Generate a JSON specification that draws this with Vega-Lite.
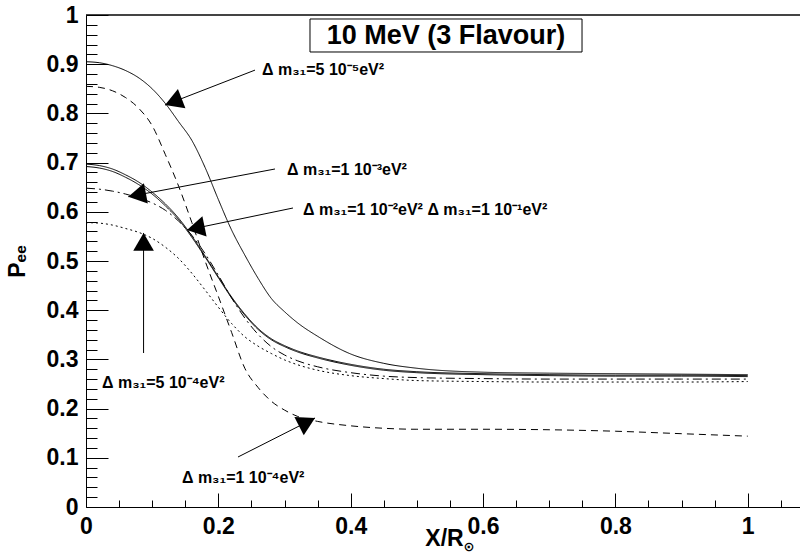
{
  "$schema": "https://vega.github.io/schema/vega-lite/v6.json",
  "autosize": "none",
  "width": 714,
  "height": 492,
  "padding": {"left": 86, "top": 15, "right": 0, "bottom": 53},
  "background": "white",
  "config": {
    "view": {"stroke": null},
    "font": "Liberation Sans"
  },
  "datasets": {
    "curves": [
      {"s":"5e-5","x":0,"y":0.905},{"s":"5e-5","x":0.02,"y":0.903},{"s":"5e-5","x":0.04,"y":0.897},{"s":"5e-5","x":0.06,"y":0.887},{"s":"5e-5","x":0.08,"y":0.872},{"s":"5e-5","x":0.10,"y":0.850},{"s":"5e-5","x":0.12,"y":0.820},{"s":"5e-5","x":0.14,"y":0.783},{"s":"5e-5","x":0.16,"y":0.745},{"s":"5e-5","x":0.18,"y":0.690},{"s":"5e-5","x":0.20,"y":0.625},{"s":"5e-5","x":0.22,"y":0.563},{"s":"5e-5","x":0.24,"y":0.512},{"s":"5e-5","x":0.26,"y":0.465},{"s":"5e-5","x":0.28,"y":0.424},{"s":"5e-5","x":0.30,"y":0.397},{"s":"5e-5","x":0.32,"y":0.374},{"s":"5e-5","x":0.35,"y":0.347},{"s":"5e-5","x":0.40,"y":0.311},{"s":"5e-5","x":0.45,"y":0.292},{"s":"5e-5","x":0.50,"y":0.282},{"s":"5e-5","x":0.60,"y":0.274},{"s":"5e-5","x":0.70,"y":0.272},{"s":"5e-5","x":0.80,"y":0.271},{"s":"5e-5","x":0.90,"y":0.270},{"s":"5e-5","x":1.00,"y":0.269},
      {"s":"1e-4","x":0,"y":0.855},{"s":"1e-4","x":0.02,"y":0.853},{"s":"1e-4","x":0.04,"y":0.846},{"s":"1e-4","x":0.06,"y":0.832},{"s":"1e-4","x":0.08,"y":0.810},{"s":"1e-4","x":0.10,"y":0.775},{"s":"1e-4","x":0.12,"y":0.716},{"s":"1e-4","x":0.14,"y":0.652},{"s":"1e-4","x":0.16,"y":0.578},{"s":"1e-4","x":0.18,"y":0.500},{"s":"1e-4","x":0.20,"y":0.428},{"s":"1e-4","x":0.22,"y":0.355},{"s":"1e-4","x":0.24,"y":0.282},{"s":"1e-4","x":0.26,"y":0.243},{"s":"1e-4","x":0.28,"y":0.215},{"s":"1e-4","x":0.30,"y":0.197},{"s":"1e-4","x":0.32,"y":0.184},{"s":"1e-4","x":0.35,"y":0.174},{"s":"1e-4","x":0.40,"y":0.165},{"s":"1e-4","x":0.45,"y":0.160},{"s":"1e-4","x":0.50,"y":0.158},{"s":"1e-4","x":0.60,"y":0.158},{"s":"1e-4","x":0.70,"y":0.157},{"s":"1e-4","x":0.80,"y":0.154},{"s":"1e-4","x":0.90,"y":0.149},{"s":"1e-4","x":1.00,"y":0.144},
      {"s":"1e-2","x":0,"y":0.692},{"s":"1e-2","x":0.02,"y":0.689},{"s":"1e-2","x":0.04,"y":0.682},{"s":"1e-2","x":0.06,"y":0.670},{"s":"1e-2","x":0.08,"y":0.655},{"s":"1e-2","x":0.10,"y":0.636},{"s":"1e-2","x":0.12,"y":0.612},{"s":"1e-2","x":0.14,"y":0.584},{"s":"1e-2","x":0.16,"y":0.548},{"s":"1e-2","x":0.18,"y":0.508},{"s":"1e-2","x":0.20,"y":0.466},{"s":"1e-2","x":0.22,"y":0.425},{"s":"1e-2","x":0.24,"y":0.390},{"s":"1e-2","x":0.26,"y":0.361},{"s":"1e-2","x":0.28,"y":0.340},{"s":"1e-2","x":0.30,"y":0.326},{"s":"1e-2","x":0.32,"y":0.315},{"s":"1e-2","x":0.35,"y":0.303},{"s":"1e-2","x":0.40,"y":0.288},{"s":"1e-2","x":0.45,"y":0.278},{"s":"1e-2","x":0.50,"y":0.273},{"s":"1e-2","x":0.60,"y":0.269},{"s":"1e-2","x":0.70,"y":0.267},{"s":"1e-2","x":0.80,"y":0.266},{"s":"1e-2","x":0.90,"y":0.266},{"s":"1e-2","x":1.00,"y":0.265},
      {"s":"1e-1","x":0,"y":0.697},{"s":"1e-1","x":0.02,"y":0.694},{"s":"1e-1","x":0.04,"y":0.687},{"s":"1e-1","x":0.06,"y":0.675},{"s":"1e-1","x":0.08,"y":0.660},{"s":"1e-1","x":0.10,"y":0.640},{"s":"1e-1","x":0.12,"y":0.616},{"s":"1e-1","x":0.14,"y":0.587},{"s":"1e-1","x":0.16,"y":0.551},{"s":"1e-1","x":0.18,"y":0.510},{"s":"1e-1","x":0.20,"y":0.468},{"s":"1e-1","x":0.22,"y":0.427},{"s":"1e-1","x":0.24,"y":0.392},{"s":"1e-1","x":0.26,"y":0.363},{"s":"1e-1","x":0.28,"y":0.342},{"s":"1e-1","x":0.30,"y":0.328},{"s":"1e-1","x":0.32,"y":0.317},{"s":"1e-1","x":0.35,"y":0.305},{"s":"1e-1","x":0.40,"y":0.290},{"s":"1e-1","x":0.45,"y":0.280},{"s":"1e-1","x":0.50,"y":0.275},{"s":"1e-1","x":0.60,"y":0.271},{"s":"1e-1","x":0.70,"y":0.269},{"s":"1e-1","x":0.80,"y":0.268},{"s":"1e-1","x":0.90,"y":0.268},{"s":"1e-1","x":1.00,"y":0.267},
      {"s":"1e-3","x":0,"y":0.648},{"s":"1e-3","x":0.02,"y":0.646},{"s":"1e-3","x":0.04,"y":0.642},{"s":"1e-3","x":0.06,"y":0.636},{"s":"1e-3","x":0.08,"y":0.628},{"s":"1e-3","x":0.10,"y":0.618},{"s":"1e-3","x":0.12,"y":0.603},{"s":"1e-3","x":0.14,"y":0.581},{"s":"1e-3","x":0.16,"y":0.552},{"s":"1e-3","x":0.18,"y":0.515},{"s":"1e-3","x":0.20,"y":0.471},{"s":"1e-3","x":0.22,"y":0.425},{"s":"1e-3","x":0.24,"y":0.384},{"s":"1e-3","x":0.26,"y":0.351},{"s":"1e-3","x":0.28,"y":0.326},{"s":"1e-3","x":0.30,"y":0.309},{"s":"1e-3","x":0.32,"y":0.297},{"s":"1e-3","x":0.35,"y":0.285},{"s":"1e-3","x":0.40,"y":0.273},{"s":"1e-3","x":0.45,"y":0.266},{"s":"1e-3","x":0.50,"y":0.263},{"s":"1e-3","x":0.60,"y":0.261},{"s":"1e-3","x":0.70,"y":0.260},{"s":"1e-3","x":0.80,"y":0.260},{"s":"1e-3","x":0.90,"y":0.260},{"s":"1e-3","x":1.00,"y":0.260},
      {"s":"5e-4","x":0,"y":0.578},{"s":"5e-4","x":0.02,"y":0.577},{"s":"5e-4","x":0.04,"y":0.573},{"s":"5e-4","x":0.06,"y":0.566},{"s":"5e-4","x":0.08,"y":0.558},{"s":"5e-4","x":0.10,"y":0.546},{"s":"5e-4","x":0.12,"y":0.528},{"s":"5e-4","x":0.14,"y":0.505},{"s":"5e-4","x":0.16,"y":0.475},{"s":"5e-4","x":0.18,"y":0.441},{"s":"5e-4","x":0.20,"y":0.406},{"s":"5e-4","x":0.22,"y":0.373},{"s":"5e-4","x":0.24,"y":0.346},{"s":"5e-4","x":0.26,"y":0.327},{"s":"5e-4","x":0.28,"y":0.312},{"s":"5e-4","x":0.30,"y":0.299},{"s":"5e-4","x":0.32,"y":0.289},{"s":"5e-4","x":0.35,"y":0.278},{"s":"5e-4","x":0.40,"y":0.267},{"s":"5e-4","x":0.45,"y":0.261},{"s":"5e-4","x":0.50,"y":0.257},{"s":"5e-4","x":0.60,"y":0.255},{"s":"5e-4","x":0.70,"y":0.254},{"s":"5e-4","x":0.80,"y":0.254},{"s":"5e-4","x":0.90,"y":0.254},{"s":"5e-4","x":1.00,"y":0.255}
    ],
    "arrows": [
      {"name":"5e-5","sx":0.2554,"sy":0.888,"tx":0.1194,"ty":0.817,"dir":158.7},
      {"name":"1e-3","sx":0.2856,"sy":0.687,"tx":0.0639,"ty":0.6307,"dir":169.3},
      {"name":"1e-2","sx":0.3128,"sy":0.6077,"tx":0.1526,"ty":0.563,"dir":168.3},
      {"name":"5e-4","sx":0.087,"sy":0.313,"tx":0.087,"ty":0.557,"dir":270},
      {"name":"1e-4","sx":0.2297,"sy":0.1016,"tx":0.3461,"ty":0.1809,"dir":333.1}
    ],
    "labels": [
      {"x":0.266,"y":0.888,"t":"Δ m₃₁=5 10⁻⁵eV²"},
      {"x":0.3038,"y":0.685,"t":"Δ m₃₁=1 10⁻³eV²"},
      {"x":0.328,"y":0.6037,"t":"Δ m₃₁=1 10⁻²eV²  Δ m₃₁=1 10⁻¹eV²"},
      {"x":0.0242,"y":0.252,"t":"Δ m₃₁=5 10⁻⁴eV²"},
      {"x":0.145,"y":0.059,"t":"Δ m₃₁=1 10⁻⁴eV²"}
    ],
    "sun": [{"x":0.5788,"y":-0.0813,"t":"⊙"}],
    "titlebox": [
      {"x1":0.3385,"x2":0.7496,"y1":0.9248,"y2":0.9919,"cx":0.544,"cy":0.9583,"t":"10 MeV (3 Flavour)"}
    ],
    "frame": [{"top":1}]
  },
  "resolve": {"axis": {"x": "independent", "y": "independent"}},
  "layer": [
    {
      "data": {"name": "curves"},
      "mark": {"type": "line", "color": "black", "strokeWidth": 1, "interpolate": "monotone"},
      "encoding": {
        "x": {
          "field": "x", "type": "quantitative",
          "scale": {"domain": [0, 1.079], "nice": false, "zero": false},
          "axis": {
            "orient": "bottom", "zindex": 2,
            "values": [0,0.2,0.4,0.6,0.8,1],
            "grid": false,
            "domainColor": "black", "domainWidth": 1,
            "ticks": true, "tickColor": "black", "tickWidth": 1, "tickOpacity": 1, "tickSize": -14,
            "labelExpr": "datum.value==0 ? '0' : datum.value>0.999 ? '1' : format(datum.value,'.1f')",
            "labelPadding": 22,
            "labelFont": "Liberation Sans", "labelFontWeight": "bold", "labelFontSize": 23, "labelColor": "black",
            "labelOverlap": false, "labelFlush": false, "labelBound": false,
            "title": "X/R",
            "titleFont": "Liberation Sans", "titleFontWeight": "bold", "titleFontSize": 23, "titleColor": "black",
            "titleX": 358, "titleY": 31, "titleAlign": "center", "titleBaseline": "middle", "titleAnchor": null
          }
        },
        "y": {
          "field": "y", "type": "quantitative",
          "scale": {"domain": [0, 1], "nice": false, "zero": false},
          "axis": {
            "orient": "left", "zindex": 2,
            "values": [0,0.1,0.2,0.3,0.4,0.5,0.6,0.7,0.8,0.9,1],
            "grid": false,
            "domainColor": "black", "domainWidth": 1,
            "ticks": true, "tickColor": "black", "tickWidth": 1, "tickOpacity": 1, "tickSize": -22,
            "labelExpr": "datum.value==0 ? '0' : datum.value>0.999 ? '1' : format(datum.value,'.1f')",
            "labelPadding": 30,
            "labelFont": "Liberation Sans", "labelFontWeight": "bold", "labelFontSize": 23, "labelColor": "black",
            "labelOverlap": false, "labelFlush": false, "labelBound": false,
            "title": "Pₑₑ",
            "titleFont": "Liberation Sans", "titleFontWeight": "bold", "titleFontSize": 23, "titleColor": "black",
            "titleX": -69, "titleY": 246, "titleAngle": 270, "titleAlign": "center", "titleBaseline": "middle", "titleAnchor": null
          }
        },
        "strokeDash": {
          "field": "s", "type": "nominal",
          "scale": {"domain": ["5e-5","1e-4","1e-3","1e-2","1e-1","5e-4"], "range": [[1,0],[7,5],[9,4,2,4],[1,0],[1,0],[2,3]]},
          "legend": null
        }
      }
    },
    {
      "data": {"name": "frame"},
      "mark": {"type": "rule", "color": "#444444", "strokeWidth": 2},
      "encoding": {"y": {"field": "top", "type": "quantitative", "axis": null}}
    },
    {
      "data": {"name": "arrows"},
      "mark": {"type": "rule", "color": "black", "strokeWidth": 1},
      "encoding": {
        "x": {"field": "sx", "type": "quantitative", "axis": null},
        "y": {"field": "sy", "type": "quantitative", "axis": null},
        "x2": {"field": "tx"},
        "y2": {"field": "ty"}
      }
    },
    {
      "data": {"name": "arrows"},
      "mark": {"type": "point", "shape": "M0,0L-2,-1.155L-2,1.155Z", "filled": true, "color": "black", "opacity": 1, "size": 320, "strokeWidth": 0},
      "encoding": {
        "x": {
          "field": "tx", "type": "quantitative",
          "axis": {
            "orient": "bottom", "zindex": 2,
            "values": [0.05,0.1,0.15,0.25,0.3,0.35,0.45,0.5,0.55,0.65,0.7,0.75,0.85,0.9,0.95,1.05],
            "grid": false, "domain": false, "labels": false, "title": null,
            "ticks": true, "tickColor": "black", "tickWidth": 1, "tickOpacity": 1, "tickSize": -7
          }
        },
        "y": {
          "field": "ty", "type": "quantitative",
          "axis": {
            "orient": "left", "zindex": 2,
            "values": [0.02,0.04,0.06,0.08,0.12,0.14,0.16,0.18,0.22,0.24,0.26,0.28,0.32,0.34,0.36,0.38,0.42,0.44,0.46,0.48,0.52,0.54,0.56,0.58,0.62,0.64,0.66,0.68,0.72,0.74,0.76,0.78,0.82,0.84,0.86,0.88,0.92,0.94,0.96,0.98],
            "grid": false, "domain": false, "labels": false, "title": null,
            "ticks": true, "tickColor": "black", "tickWidth": 1, "tickOpacity": 1, "tickSize": -11
          }
        },
        "angle": {"field": "dir", "type": "quantitative", "scale": null}
      }
    },
    {
      "data": {"name": "labels"},
      "mark": {"type": "text", "align": "left", "baseline": "middle", "font": "Liberation Sans", "fontWeight": "bold", "fontSize": 16, "color": "black"},
      "encoding": {
        "x": {"field": "x", "type": "quantitative", "axis": null},
        "y": {"field": "y", "type": "quantitative", "axis": null},
        "text": {"field": "t"}
      }
    },
    {
      "data": {"name": "sun"},
      "mark": {"type": "text", "align": "center", "baseline": "middle", "font": "DejaVu Sans", "fontWeight": "bold", "fontSize": 13, "color": "black"},
      "encoding": {
        "x": {"field": "x", "type": "quantitative", "axis": null},
        "y": {"field": "y", "type": "quantitative", "axis": null},
        "text": {"field": "t"}
      }
    },
    {
      "data": {"name": "titlebox"},
      "mark": {"type": "rect", "fill": "white", "stroke": "black", "strokeWidth": 1},
      "encoding": {
        "x": {"field": "x1", "type": "quantitative", "axis": null},
        "x2": {"field": "x2"},
        "y": {"field": "y1", "type": "quantitative", "axis": null},
        "y2": {"field": "y2"}
      }
    },
    {
      "data": {"name": "titlebox"},
      "mark": {"type": "text", "align": "center", "baseline": "middle", "font": "Liberation Sans", "fontWeight": "bold", "fontSize": 27, "color": "black"},
      "encoding": {
        "x": {"field": "cx", "type": "quantitative", "axis": null},
        "y": {"field": "cy", "type": "quantitative", "axis": null},
        "text": {"field": "t"}
      }
    }
  ]
}
